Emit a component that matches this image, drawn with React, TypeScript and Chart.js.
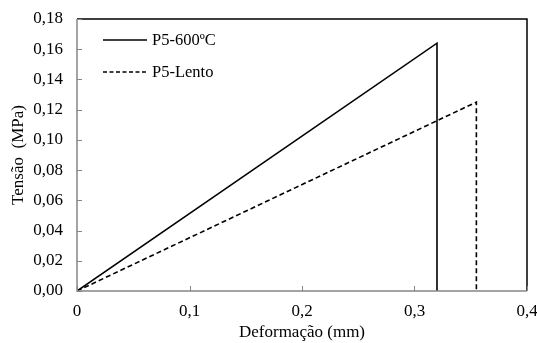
import React, { useEffect, useRef } from "react";
import { Chart, registerables } from "chart.js";

Chart.register(...registerables);

const seriesNames = ["P5-600ºC", "P5-Lento"];
const solidX = [0, 0.32, 0.32];
const solidY = [0, 0.164, 0];
const dashedX = [0, 0.355, 0.355];
const dashedY = [0, 0.125, 0];
const xTicks = [0, 0.1, 0.2, 0.3, 0.4];
const yTicks = [0, 0.02, 0.04, 0.06, 0.08, 0.1, 0.12, 0.14, 0.16, 0.18];

const FONT = "'Liberation Serif', 'Times New Roman', serif";
const FS = 17;

const framePlugin = {
  id: "frame",
  afterDraw(chart: any) {
    const { ctx, chartArea } = chart;
    const { left, right, top, bottom } = chartArea;
    const xs = chart.scales.x;
    const ys = chart.scales.y;
    ctx.save();
    ctx.strokeStyle = "#000";
    ctx.lineWidth = 1.5;
    ctx.beginPath();
    ctx.moveTo(left, top);
    ctx.lineTo(right, top);
    ctx.lineTo(right, bottom);
    ctx.stroke();
    ctx.strokeStyle = "#868686";
    ctx.lineWidth = 1.5;
    ctx.beginPath();
    ctx.moveTo(left, top);
    ctx.lineTo(left, bottom);
    ctx.lineTo(right, bottom);
    ctx.stroke();
    ctx.lineWidth = 1;
    ctx.beginPath();
    yTicks.forEach((v) => {
      const py = Math.round(ys.getPixelForValue(v)) + 0.5;
      ctx.moveTo(left, py);
      ctx.lineTo(left + 5, py);
    });
    xTicks.forEach((v) => {
      const px = Math.round(xs.getPixelForValue(v)) + 0.5;
      ctx.moveTo(px, bottom);
      ctx.lineTo(px, bottom - 5);
    });
    ctx.stroke();
    ctx.font = `${FS - 0.5}px ${FONT}`;
    ctx.fillStyle = "#000";
    ctx.textBaseline = "middle";
    ctx.textAlign = "left";
    const items = [
      { y: top + 21, dash: [] as number[] },
      { y: top + 53, dash: [4, 2.5] },
    ];
    items.forEach((it, i) => {
      ctx.strokeStyle = "#000";
      ctx.lineWidth = 1.5;
      ctx.setLineDash(it.dash);
      ctx.beginPath();
      ctx.moveTo(left + 26, it.y);
      ctx.lineTo(left + 70, it.y);
      ctx.stroke();
      ctx.setLineDash([]);
      ctx.fillText(seriesNames[i], left + 75, it.y + 1);
    });
    ctx.restore();
  },
};

export default function App() {
  const ref = useRef<HTMLCanvasElement>(null);
  useEffect(() => {
    if (!ref.current) return;
    const chart = new Chart(ref.current, {
      type: "scatter",
      data: {
        datasets: [
          {
            label: seriesNames[0],
            data: solidX.map((x, i) => ({ x, y: solidY[i] })),
            showLine: true,
            borderColor: "#000",
            borderWidth: 1.6,
            pointRadius: 0,
            tension: 0,
          },
          {
            label: seriesNames[1],
            data: dashedX.map((x, i) => ({ x, y: dashedY[i] })),
            showLine: true,
            borderColor: "#000",
            borderWidth: 1.6,
            borderDash: [5, 3],
            pointRadius: 0,
            tension: 0,
          },
        ],
      },
      options: {
        animation: false,
        responsive: false,
        layout: { padding: { left: 0, right: 10, top: 19, bottom: 0 } },
        plugins: { legend: { display: false }, tooltip: { enabled: false } },
        scales: {
          x: {
            type: "linear",
            min: 0,
            max: 0.4,
            afterBuildTicks: (s: any) => {
              s.ticks = xTicks.map((v) => ({ value: v }));
            },
            afterFit: (s: any) => {
              s.height = 52;
              s.paddingLeft = 0;
              s.paddingRight = 0;
            },
            grid: { display: false, drawTicks: false },
            border: { display: false },
            ticks: {
              color: "#000",
              font: { family: FONT, size: FS },
              padding: 10,
              maxRotation: 0,
              callback: (v: any) => (v === 0 ? "0" : Number(v).toFixed(1).replace(".", ",")),
            },
            title: {
              display: true,
              text: "Deformação (mm)",
              color: "#000",
              font: { family: FONT, size: FS },
              padding: { top: 1, bottom: 0 },
            },
          },
          y: {
            type: "linear",
            min: 0,
            max: 0.18,
            afterBuildTicks: (s: any) => {
              s.ticks = yTicks.map((v) => ({ value: v }));
            },
            afterFit: (s: any) => {
              s.width = 77;
              s.paddingTop = 0;
              s.paddingBottom = 0;
            },
            grid: { display: false, drawTicks: false },
            border: { display: false },
            ticks: {
              color: "#000",
              font: { family: FONT, size: FS },
              padding: 14,
              callback: (v: any) => Number(v).toFixed(2).replace(".", ","),
            },
            title: {
              display: true,
              text: "Tensão  (MPa)",
              color: "#000",
              font: { family: FONT, size: FS },
              padding: { top: 8, bottom: 4 },
            },
          },
        },
      },
      plugins: [framePlugin],
    });
    return () => chart.destroy();
  }, []);
  return (
    <div style={{ position: "fixed", left: 0, top: 0, width: 537, height: 343, background: "#fff" }}>
      <canvas ref={ref} width={537} height={343} style={{ width: 537, height: 343 }} />
    </div>
  );
}
